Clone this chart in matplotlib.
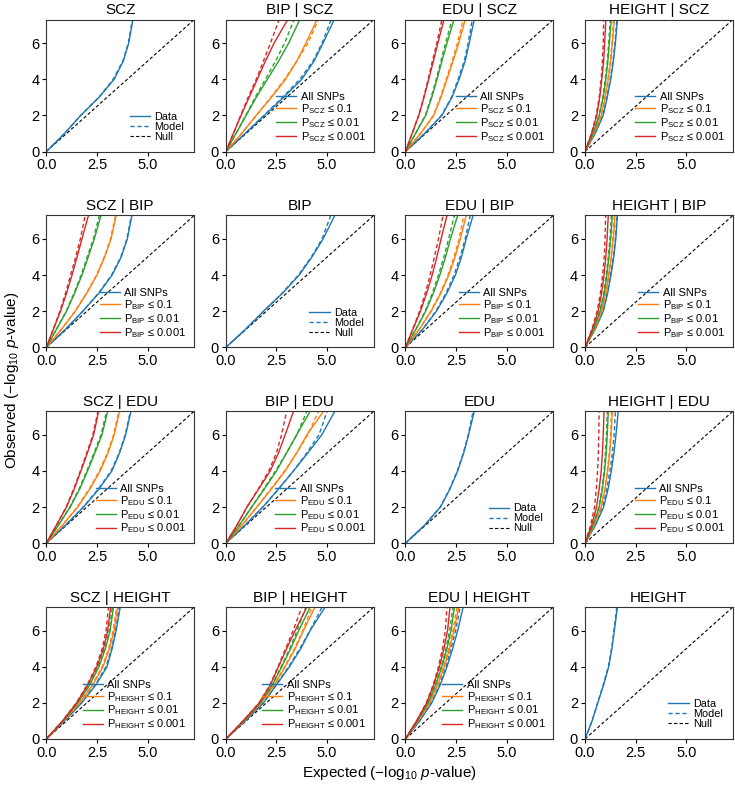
import matplotlib
matplotlib.use("Agg")
import matplotlib.pyplot as plt
from matplotlib.lines import Line2D

plt.rcParams['font.family'] = ['Liberation Sans', 'DejaVu Sans']
plt.rcParams['mathtext.fontset'] = 'custom'
plt.rcParams['mathtext.rm'] = 'Liberation Sans'
plt.rcParams['mathtext.it'] = 'Liberation Sans:italic'

traits = ["SCZ", "BIP", "EDU", "HEIGHT"]
thresholds = ["0.1", "0.01", "0.001"]
colores = ['#1f77b4', '#ff7f0e', '#2ca02c', '#d62728']

# observed levels (-log10 p); each curve gives the expected value at these levels
Y_LEVELS = [0, 1, 2, 3, 4, 5, 6, 7.3]
LIM = 7.3

# ---- fila SCZ (condicion SCZ)
scz_data = [0, 0.9, 1.7, 2.6, 3.35, 3.8, 4.07, 4.28]
scz_model = [0, 0.9, 1.7, 2.6, 3.3, 3.78, 4.05, 4.25]

bip_scz_data = [
    [0, 0.95, 1.9, 2.85, 3.75, 4.35, 4.8, 5.35],
    [0, 0.78, 1.5, 2.25, 2.95, 3.5, 3.95, 4.5],
    [0, 0.5, 1.0, 1.5, 2.05, 2.6, 3.1, 3.65],
    [0, 0.37, 0.75, 1.15, 1.55, 1.95, 2.38, 3.05]]
bip_scz_model = [
    [0, 0.95, 1.88, 2.8, 3.65, 4.3, 4.75, 5.2],
    [0, 0.78, 1.5, 2.22, 2.9, 3.5, 4.05, 4.57],
    [0, 0.5, 0.98, 1.45, 1.95, 2.45, 2.9, 3.37],
    [0, 0.37, 0.73, 1.1, 1.5, 1.85, 2.2, 2.63]]

edu_scz_data = [
    [0, 0.95, 1.8, 2.3, 2.65, 2.95, 3.15, 3.4],
    [0, 0.75, 1.4, 1.75, 2.05, 2.35, 2.63, 2.95],
    [0, 0.5, 1.0, 1.3, 1.56, 1.8, 2.05, 2.4],
    [0, 0.33, 0.66, 0.92, 1.15, 1.38, 1.6, 1.9]]
edu_scz_model = [
    [0, 0.95, 1.78, 2.27, 2.6, 2.9, 3.1, 3.3],
    [0, 0.75, 1.38, 1.72, 2.02, 2.3, 2.57, 2.85],
    [0, 0.5, 0.98, 1.27, 1.52, 1.75, 1.98, 2.3],
    [0, 0.33, 0.65, 0.9, 1.12, 1.33, 1.55, 1.8]]

height_scz_data = [
    [0, 0.5, 0.9, 1.1, 1.27, 1.4, 1.5, 1.6],
    [0, 0.45, 0.8, 1.0, 1.15, 1.27, 1.35, 1.45],
    [0, 0.4, 0.7, 0.9, 1.03, 1.13, 1.2, 1.3],
    [0, 0.33, 0.58, 0.73, 0.83, 0.92, 0.97, 1.03]]
height_scz_model = [
    [0, 0.5, 0.88, 1.08, 1.25, 1.38, 1.48, 1.57],
    [0, 0.45, 0.79, 0.98, 1.13, 1.25, 1.33, 1.41],
    [0, 0.4, 0.69, 0.88, 1.0, 1.1, 1.17, 1.25],
    [0, 0.32, 0.55, 0.7, 0.8, 0.86, 0.9, 0.92]]

# ---- fila BIP
scz_bip_data = [
    [0, 0.95, 1.8, 2.6, 3.25, 3.7, 4.0, 4.23],
    [0, 0.75, 1.43, 2.0, 2.5, 2.88, 3.2, 3.45],
    [0, 0.5, 1.0, 1.4, 1.76, 2.07, 2.37, 2.7],
    [0, 0.35, 0.7, 1.0, 1.27, 1.52, 1.76, 2.08]]
scz_bip_model = [
    [0, 0.95, 1.8, 2.58, 3.22, 3.68, 3.98, 4.2],
    [0, 0.75, 1.42, 1.98, 2.48, 2.86, 3.17, 3.42],
    [0, 0.5, 0.98, 1.37, 1.72, 2.02, 2.32, 2.62],
    [0, 0.34, 0.67, 0.95, 1.2, 1.45, 1.68, 1.92]]

bip_data = [0, 0.97, 1.86, 2.8, 3.62, 4.25, 4.8, 5.38]
bip_model = [0, 0.97, 1.86, 2.78, 3.58, 4.22, 4.75, 5.18]

edu_bip_data = [
    [0, 0.85, 1.53, 2.05, 2.47, 2.77, 3.0, 3.34],
    [0, 0.68, 1.27, 1.75, 2.14, 2.45, 2.71, 3.0],
    [0, 0.52, 1.0, 1.38, 1.7, 1.98, 2.22, 2.58],
    [0, 0.37, 0.74, 1.05, 1.32, 1.55, 1.76, 2.05]]
edu_bip_model = [
    [0, 0.85, 1.5, 2.0, 2.4, 2.7, 2.95, 3.2],
    [0, 0.68, 1.25, 1.72, 2.1, 2.4, 2.65, 2.88],
    [0, 0.52, 0.97, 1.33, 1.63, 1.9, 2.13, 2.42],
    [0, 0.36, 0.7, 0.98, 1.22, 1.43, 1.63, 1.86]]

height_bip_data = [
    [0, 0.5, 0.9, 1.12, 1.28, 1.42, 1.52, 1.6],
    [0, 0.46, 0.83, 1.03, 1.18, 1.3, 1.4, 1.48],
    [0, 0.42, 0.75, 0.95, 1.08, 1.18, 1.27, 1.35],
    [0, 0.36, 0.65, 0.82, 0.94, 1.03, 1.09, 1.15]]
height_bip_model = [
    [0, 0.5, 0.89, 1.1, 1.26, 1.4, 1.5, 1.58],
    [0, 0.46, 0.82, 1.01, 1.16, 1.28, 1.37, 1.45],
    [0, 0.41, 0.73, 0.92, 1.05, 1.15, 1.23, 1.3],
    [0, 0.34, 0.6, 0.76, 0.87, 0.95, 0.99, 1.02]]

# ---- fila EDU
scz_edu_data = [
    [0, 0.95, 1.84, 2.6, 3.24, 3.62, 3.92, 4.18],
    [0, 0.8, 1.55, 2.15, 2.66, 3.05, 3.35, 3.62],
    [0, 0.6, 1.18, 1.65, 2.04, 2.4, 2.75, 3.03],
    [0, 0.5, 1.0, 1.38, 1.71, 2.03, 2.34, 2.58]]
scz_edu_model = [
    [0, 0.95, 1.82, 2.57, 3.2, 3.6, 3.9, 4.15],
    [0, 0.8, 1.53, 2.12, 2.62, 3.02, 3.32, 3.58],
    [0, 0.6, 1.16, 1.62, 2.0, 2.36, 2.7, 2.98],
    [0, 0.5, 0.98, 1.35, 1.68, 2.0, 2.3, 2.55]]

bip_edu_data = [
    [0, 0.95, 1.83, 2.6, 3.34, 4.05, 4.74, 5.38],
    [0, 0.8, 1.53, 2.25, 2.93, 3.5, 4.0, 4.82],
    [0, 0.67, 1.28, 1.9, 2.5, 3.0, 3.5, 4.16],
    [0, 0.55, 1.04, 1.62, 2.19, 2.6, 2.93, 3.34]]
bip_edu_model = [
    [0, 0.95, 1.83, 2.6, 3.34, 4.0, 4.6, 5.0],
    [0, 0.8, 1.53, 2.22, 2.9, 3.5, 4.05, 4.57],
    [0, 0.67, 1.27, 1.87, 2.45, 3.0, 3.5, 4.0],
    [0, 0.55, 1.04, 1.6, 2.12, 2.5, 2.75, 3.0]]

edu_data = [0, 0.95, 1.73, 2.2, 2.58, 2.88, 3.12, 3.4]
edu_model = [0, 0.95, 1.72, 2.18, 2.56, 2.86, 3.1, 3.34]

height_edu_data = [
    [0, 0.52, 0.92, 1.14, 1.3, 1.43, 1.53, 1.64],
    [0, 0.45, 0.8, 0.99, 1.12, 1.22, 1.29, 1.35],
    [0, 0.4, 0.7, 0.86, 0.97, 1.05, 1.1, 1.15],
    [0, 0.33, 0.57, 0.7, 0.8, 0.86, 0.9, 0.94]]
height_edu_model = [
    [0, 0.5, 0.88, 1.08, 1.23, 1.35, 1.44, 1.5],
    [0, 0.45, 0.79, 0.97, 1.1, 1.2, 1.26, 1.31],
    [0, 0.39, 0.68, 0.84, 0.94, 1.01, 1.06, 1.1],
    [0, 0.28, 0.47, 0.56, 0.62, 0.66, 0.68, 0.7]]

# ---- fila HEIGHT
scz_height_data = [
    [0, 0.9, 1.75, 2.45, 3.0, 3.25, 3.45, 3.65],
    [0, 0.85, 1.65, 2.3, 2.8, 3.12, 3.35, 3.52],
    [0, 0.82, 1.55, 2.15, 2.6, 2.92, 3.15, 3.32],
    [0, 0.8, 1.5, 2.05, 2.5, 2.82, 3.03, 3.18]]
scz_height_model = [
    [0, 0.9, 1.73, 2.42, 2.95, 3.22, 3.42, 3.6],
    [0, 0.85, 1.63, 2.27, 2.76, 3.08, 3.3, 3.47],
    [0, 0.82, 1.53, 2.12, 2.56, 2.88, 3.1, 3.26],
    [0, 0.8, 1.48, 2.02, 2.45, 2.76, 2.95, 3.07]]

bip_height_data = [
    [0, 0.95, 1.86, 2.5, 3.14, 3.7, 4.16, 4.9],
    [0, 0.9, 1.75, 2.4, 2.93, 3.42, 3.83, 4.4],
    [0, 0.88, 1.7, 2.3, 2.76, 3.2, 3.6, 4.16],
    [0, 0.85, 1.65, 2.2, 2.6, 3.0, 3.42, 4.0]]
bip_height_model = [
    [0, 0.95, 1.85, 2.48, 3.1, 3.65, 4.15, 4.75],
    [0, 0.9, 1.74, 2.38, 2.9, 3.38, 3.8, 4.25],
    [0, 0.88, 1.69, 2.28, 2.73, 3.15, 3.52, 3.95],
    [0, 0.85, 1.64, 2.18, 2.57, 2.95, 3.32, 3.75]]

edu_height_data = [
    [0, 0.7, 1.3, 1.72, 2.05, 2.33, 2.58, 2.85],
    [0, 0.62, 1.2, 1.6, 1.92, 2.18, 2.4, 2.63],
    [0, 0.58, 1.12, 1.5, 1.8, 2.05, 2.25, 2.42],
    [0, 0.55, 1.05, 1.4, 1.68, 1.9, 2.08, 2.2]]
edu_height_model = [
    [0, 0.7, 1.28, 1.68, 2.0, 2.25, 2.48, 2.7],
    [0, 0.62, 1.18, 1.57, 1.88, 2.13, 2.34, 2.55],
    [0, 0.58, 1.1, 1.47, 1.76, 2.0, 2.18, 2.35],
    [0, 0.55, 1.03, 1.37, 1.63, 1.83, 1.97, 2.05]]

height_data = [0, 0.35, 0.63, 0.92, 1.17, 1.33, 1.45, 1.6]
height_model = [0, 0.35, 0.62, 0.9, 1.15, 1.31, 1.43, 1.57]

# paneles: (fila = condicion, columna = rasgo principal)
diag = {0: (scz_data, scz_model), 1: (bip_data, bip_model),
        2: (edu_data, edu_model), 3: (height_data, height_model)}
cond = {
    (0, 1): (bip_scz_data, bip_scz_model), (0, 2): (edu_scz_data, edu_scz_model),
    (0, 3): (height_scz_data, height_scz_model),
    (1, 0): (scz_bip_data, scz_bip_model), (1, 2): (edu_bip_data, edu_bip_model),
    (1, 3): (height_bip_data, height_bip_model),
    (2, 0): (scz_edu_data, scz_edu_model), (2, 1): (bip_edu_data, bip_edu_model),
    (2, 3): (height_edu_data, height_edu_model),
    (3, 0): (scz_height_data, scz_height_model), (3, 1): (bip_height_data, bip_height_model),
    (3, 2): (edu_height_data, edu_height_model),
}

fig, axes = plt.subplots(4, 4, figsize=(7.35, 7.87), dpi=100)
fig.subplots_adjust(left=0.063, right=0.997, top=0.975, bottom=0.061,
                    wspace=0.215, hspace=0.485)

for i in range(4):
    for j in range(4):
        ax = axes[i, j]
        ax.plot([0, LIM], [0, LIM], color='k', ls='--', lw=0.8, dashes=(3, 2))
        if i == j:
            d, m = diag[i]
            ax.plot(d, Y_LEVELS, color=colores[0], lw=1.0)
            ax.plot(m, Y_LEVELS, color=colores[0], lw=1.0, ls='--', dashes=(3, 2))
            ax.set_title(traits[i], fontsize=11, pad=4)
            handles = [Line2D([], [], color=colores[0], lw=1.0),
                       Line2D([], [], color=colores[0], lw=1.0, ls='--', dashes=(3, 2)),
                       Line2D([], [], color='k', lw=0.8, ls='--', dashes=(3, 2))]
            labels = ["Data", "Model", "Null"]
            ax.legend(handles, labels, loc='lower right', frameon=False, fontsize=7.8,
                      handlelength=1.9, handletextpad=0.4, labelspacing=0.0,
                      borderaxespad=0.5)
        else:
            d, m = cond[(i, j)]
            for k in range(4):
                ax.plot(d[k], Y_LEVELS, color=colores[k], lw=1.0)
                ax.plot(m[k], Y_LEVELS, color=colores[k], lw=1.0, ls='--', dashes=(3, 2))
            ax.set_title(traits[j] + " | " + traits[i], fontsize=11, pad=4)
            handles = [Line2D([], [], color=c, lw=1.0) for c in colores]
            labels = ["All SNPs"] + ["P$_{\\mathrm{%s}}$ ≤ %s" % (traits[i], t) for t in thresholds]
            ax.legend(handles, labels, loc='lower right', frameon=False, fontsize=8,
                      handlelength=1.8, handletextpad=0.4, labelspacing=0.0,
                      borderaxespad=0.3)
        ax.set_xlim(0, LIM)
        ax.set_ylim(0, LIM)
        ax.set_xticks([0, 2.5, 5.0])
        ax.set_xticklabels(["0.0", "2.5", "5.0"])
        ax.set_yticks([0, 2, 4, 6])
        ax.tick_params(labelsize=10.5, direction='out', length=3, width=0.8, pad=2)
        for s in ax.spines.values():
            s.set_linewidth(0.8)
            s.set_color('#333333')

fig.text(0.53, 0.006, "Expected (\u2212log$_{10}$ $p$-value)", ha='center', va='bottom', fontsize=11)
fig.text(0.004, 0.517, "Observed (\u2212log$_{10}$ $p$-value)", ha='left', va='center',
         rotation=90, fontsize=11)

fig.savefig("out.png", dpi=100)
